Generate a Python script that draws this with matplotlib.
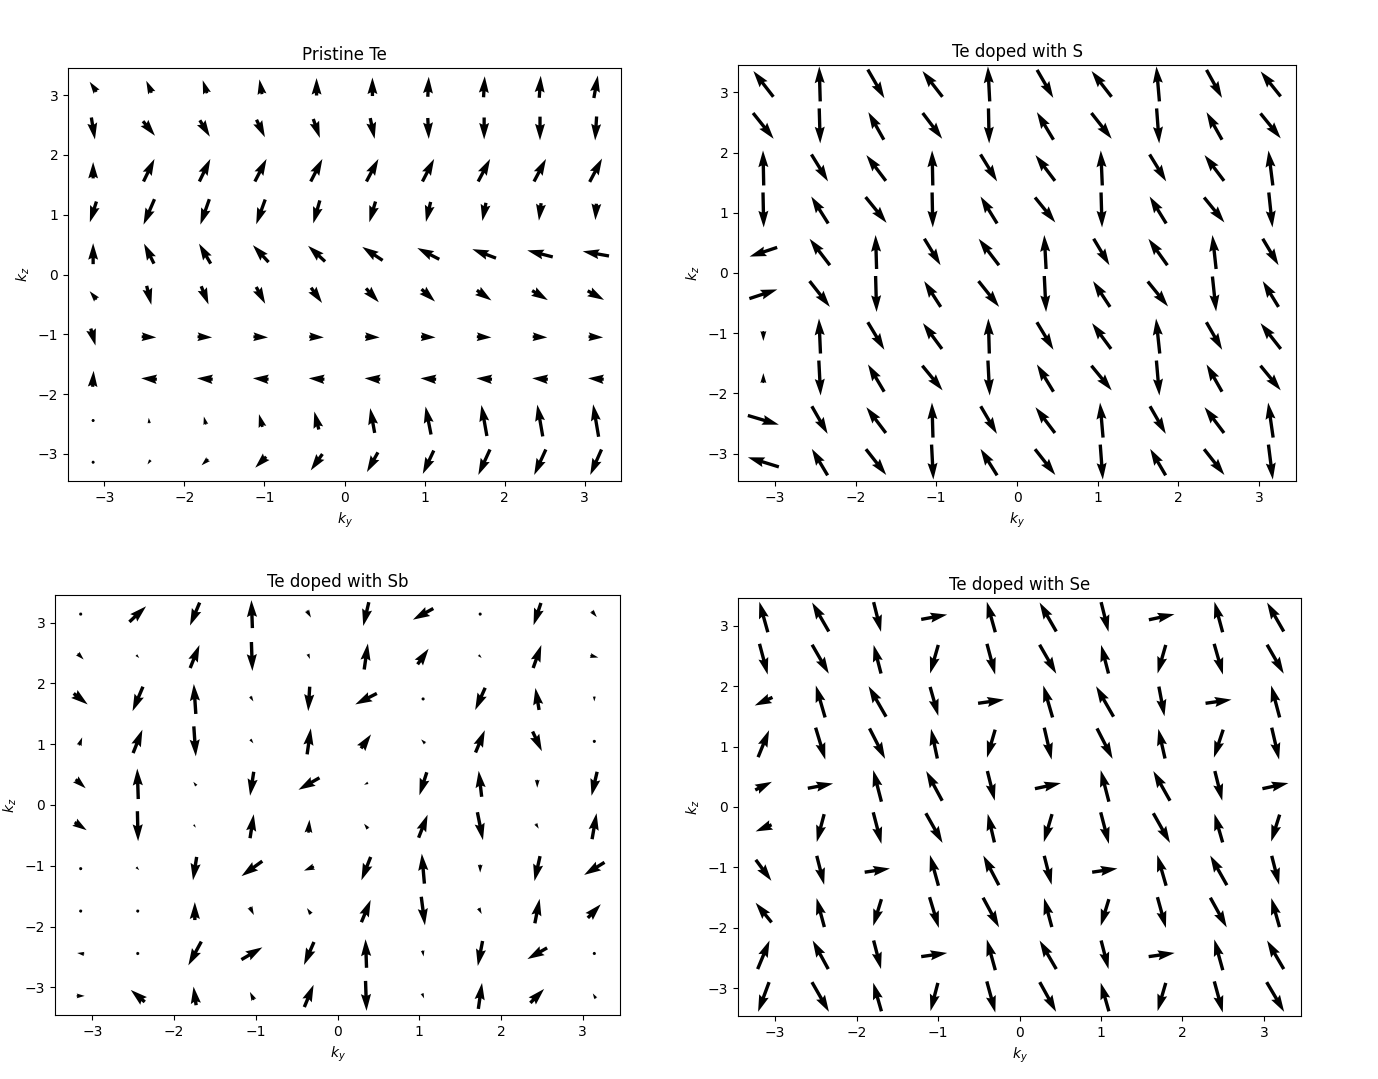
import numpy as np
import matplotlib
matplotlib.use("Agg")
import matplotlib.pyplot as plt

# grid of the Brillouin-zone cut
ky = np.linspace(-np.pi, np.pi, 10)
kz = np.linspace(-np.pi, np.pi, 10)

titles = ["Pristine Te", "Te doped with S", "Te doped with Sb", "Te doped with Se"]

# spin components (screen units), rows listed from top (kz=+pi) to bottom (kz=-pi)
U_te = [
    [-7, -5.5, -4.3, -2.6, 0, 0, 1, 1.2, 1.5, 4],
    [3.6, 12, 10, 8.4, 6.6, 4.4, 1, 0, 0, -1.5],
    [0, 11, 11, 11.7, 11.7, 12, 11.7, 12, 12, 12.4],
    [-6.6, -11, -9, -9, -6.6, -6.2, -4.7, -3.6, -2.2, -1],
    [0, -10, -11.7, -15.7, -17, -20.4, -22, -23.7, -25.5, -26.3],
    [-7, 4.7, 7.3, 9, 11, 12.8, 13.5, 14.6, 15.7, 16.4],
    [4.7, 14.6, 14.6, 14.6, 14.6, 14.6, 14.6, 14.6, 14.6, 14.6],
    [1, -15.7, -15.7, -15.7, -15.7, -15.7, -15.7, -15.7, -15.7, -15.7],
    [0, -0.5, -2, -3.5, -4.5, -4.5, -5.5, -5.5, -5.5, -5.5],
    [0, -3, -6.6, -11, -11.7, -11, -11, -11.7, -11.7, -11.3],
]
V_te = [
    [10, 12, 13, 14.8, 17.5, 18.5, 20, 21, 22, 22.5],
    [-22, -14.6, -16.4, -17.5, -19, -20.8, -21, -22, -23.7, -24],
    [16.4, 22.6, 22.6, 22.6, 22.6, 22.6, 22.6, 22.6, 22.6, 23.4],
    [-20.8, -25.5, -25.5, -24.8, -23, -20.8, -20, -18.2, -17.5, -16.4],
    [21, 20, 20, 17, 15.7, 13.5, 11.3, 9, 6.6, 4.7],
    [8.4, -19, -18.2, -16.8, -15.3, -13.9, -12.4, -10.2, -9.5, -9.1],
    [-17, -0.7, -0.7, -0.7, -0.7, -0.7, -0.7, -0.7, -0.7, -0.7],
    [16, 1, 1, 1, 1, 1, 1, 1, 1, 1],
    [0, 5.5, 8, 12.8, 18, 24.8, 28, 31, 31.8, 32.5],
    [0, -4.4, -6.2, -11, -16.4, -19.7, -23.4, -25.5, -25.5, -25.5],
]

U_s = [
    [-20, -1, 16.6, -20, -1.8, 16.2, -20, -3, 15.5, -20],
    [20.6, 1, -15.5, 19.5, 0.7, -16.6, 20.3, 2.6, -15.5, 20.3],
    [-0.7, 16.6, -19.5, -0.7, 16.6, -19.5, -1.5, 16.6, -19.5, -4.4],
    [0.7, -17, 21, 0.7, -16.6, 20.3, 1, -16.6, 20.3, 3.7],
    [-27.6, -20.3, -1, 16.2, -20.3, -1.8, 15.8, -19, -3.7, 15.8],
    [28, 20.3, 1, -16.6, 20.6, 1.8, -17, 20.3, 3.7, -15.8],
    [0, -1.5, 16.6, -19, -1, 16.6, -19, -3.7, 15.8, -20.3],
    [0, 1.8, -16.2, 20.3, 1.8, -16.6, 20.3, 3, -15.5, 20.3],
    [31, 15.8, -19.5, -1, 16.2, -19.5, -3, 15.8, -19.5, -5],
    [-31, -15.8, 20.3, 1.8, -16.6, 20.3, 2.6, -15.5, 20.3, 4.4],
]
V_s = [
    [25.8, 35, -28.7, 25.8, 35, -28, 25.8, 35, -28, 25],
    [-25.8, -35, 27.6, -25.8, -35, 27.6, -25.8, -35, 27.6, -25],
    [35, -27, 25.8, 35, -27, 25.8, 35, -27, 25.8, 35],
    [-35, 27, -25.8, -35, 27, -25, -35, 27, -25, -35],
    [-9.2, 26.5, 34, -26.5, 26.5, 34, -26.5, 26.5, 34, -26.5],
    [9.2, -25.8, -36, 25.8, -25.8, -36, 25.8, -25, -35, 25.8],
    [-10, 35, -27.6, 25.8, 35, -27.6, 25.8, 35, -27.6, 25.8],
    [10, -35, 27.3, -24.7, -35, 27.3, -24.7, -35, 27.3, -24.7],
    [-9.2, -27.6, 25.8, 35, -27.6, 25.8, 35, -27.6, 25.8, 35],
    [9.6, 26.5, -25.8, -35, 26.5, -25.8, -35, 26.5, -25.8, -35],
]

U_sb = [
    [0, 16.7, -9.7, -1, 4, -5.6, -20.4, 1, -7.4, 5],
    [6, 3, 9.3, 1, 2, 3.7, 11, 3, 8.2, 8],
    [14, -10.4, -2, 3, -1.5, -21.6, -3, -10, -3.7, 0],
    [3, 9.3, 2, 3, 3.7, 10, -4, 9.3, 9.3, 3],
    [10, -1, -3, -3.7, -21, -4, -7.4, -3, 0, -5.6],
    [12, 0.7, 2, 3.7, 1, -4, 9, 5.6, 3, 4.5],
    [1, 3, -3.7, -20.8, -10, -9.3, -2.6, 0, -5.6, -20.4],
    [1, 2, 0, 4, -4, 9.3, 3.7, 3, 4.8, 13],
    [-7, 0, -13, 21, -10, -1, 1, -4.8, -19.7, 1],
    [8, -14, -2.6, -4, 9.3, 1, 2, 3.7, 13.8, -3],
]
V_sb = [
    [0, 15.6, -23, 28, -7, -23.8, -11.2, -2, -22.3, -6],
    [-6, -3, 23, -29, -5, 26, 15.6, -3, 23, -2],
    [-11, -24.5, 30, -5, -24.5, -11, 1, -22.3, 22, -5],
    [8, 23.4, -30, -4, 26, 14, 4, 22.3, -19.7, -1],
    [-9, 30.5, 4, -24, -12, -2, -23, 26, -8, -24],
    [-8, -30, -3, 24, 13, 5, 23, -28, -5, 26],
    [-1, -3, -23.4, -15, -4, -23.4, 30, -8, -25, -12.6],
    [-1, -2, 18, -8, 6, 22.3, -28.6, -6, 24.5, 13.7],
    [1, -3, -23.8, 12.3, -23, 28.6, -6, -25, -11.2, -1],
    [0, 12, 18.6, 8, 22.3, -30, -5, 26, 14, 5],
]

U_se = [
    [-8.5, -16.7, 7.4, 26, -8.5, -16.7, 7.4, 25.6, -8.2, -16.7],
    [8.2, 16.7, -7.4, -8.2, 8.2, 16.7, -7.4, -8.2, 8.8, 16.7],
    [-17.8, -9.3, -17.5, 8.2, 26, -9.3, -17.5, 5.6, 26, -8.5],
    [11, 9.7, 15.6, -6.3, -8.2, 7.4, 15.6, -6.7, -9.3, 7.4],
    [16.7, 25.3, -8.2, -16, 7.4, 26, -8.2, -16.7, 7.4, 26],
    [-16, -7.4, 8.2, 16.7, -6.7, -8.2, 8.2, 16.7, -8.2, -8.5],
    [15.6, 7.4, 25.3, -8.5, -15.6, 7.4, 25.3, -8.9, -16.7, 7.4],
    [-16, -7.8, -8.2, 9.3, 16, -7.8, -8.2, 8.5, 16.4, -8.2],
    [11.9, -15.6, 7.4, 26, -8.5, -16.7, 7.4, 26, -8.5, -16.7],
    [-11, 17, -8.2, -7.4, 8.5, 16.4, -8.2, -8.2, 8.5, 17.5],
]
V_se = [
    [30.5, 29, -29.7, 4.8, 30.5, 29, -29.7, 5.6, 30.5, 29],
    [-30.8, -29, 28.6, -28.6, -30.8, -29, 28.6, -28.6, -30.8, -29],
    [-8.2, 32, 30.5, -29, 3.7, 32, 30.5, -29.7, 3.7, 32],
    [27, -32, -30.5, 29.7, -28, -32, -30.5, 29.7, -28, -32],
    [8.2, 4.8, 31.6, 29.7, -29.7, 5.6, 31.6, 29.7, -29.7, 5.6],
    [-6.7, -27.9, -31.6, -29.7, 28.6, -28, -31.6, -29.7, 28.6, -27],
    [-21, -29, 3.7, 30.8, 29.7, -29, 3.7, 30.8, 29.7, -29],
    [19.7, 29, -26.8, -30.8, -29.7, 29, -26.8, -30.8, -29.7, 29],
    [28.6, 28.6, -28.6, 3.7, 30.8, 28.6, -28.6, 3.7, 30.8, 28.6],
    [-29.7, -29.7, 28.6, -28.2, -31.2, -29.7, 28.6, -28.2, -31.2, -29.7],
]

fields = [(U_te, V_te), (U_s, V_s), (U_sb, V_sb), (U_se, V_se)]
rects = [
    [68 / 1378, 1 - 481 / 1079, 553 / 1378, 413 / 1079],
    [738 / 1378, 1 - 481 / 1079, 558 / 1378, 416 / 1079],
    [55 / 1378, 1 - 1015 / 1079, 565 / 1378, 420 / 1079],
    [738 / 1378, 1 - 1016 / 1079, 563 / 1378, 418 / 1079],
]

KY, KZ = np.meshgrid(ky, kz)
fig = plt.figure(figsize=(13.78, 10.79), dpi=100)
for title, (U, V), rect in zip(titles, fields, rects):
    ax = fig.add_axes(rect)
    ax.quiver(KY, KZ, np.flipud(np.array(U, float)), np.flipud(np.array(V, float)),
              pivot="mid", angles="uv", scale_units="dots", scale=1)
    ax.set_xlim(-1.1 * np.pi, 1.1 * np.pi)
    ax.set_ylim(-1.1 * np.pi, 1.1 * np.pi)
    ax.set_title(title)
    ax.set_xlabel(r"$k_y$")
    ax.set_ylabel(r"$k_z$")

fig.savefig("out.png", dpi=100)
